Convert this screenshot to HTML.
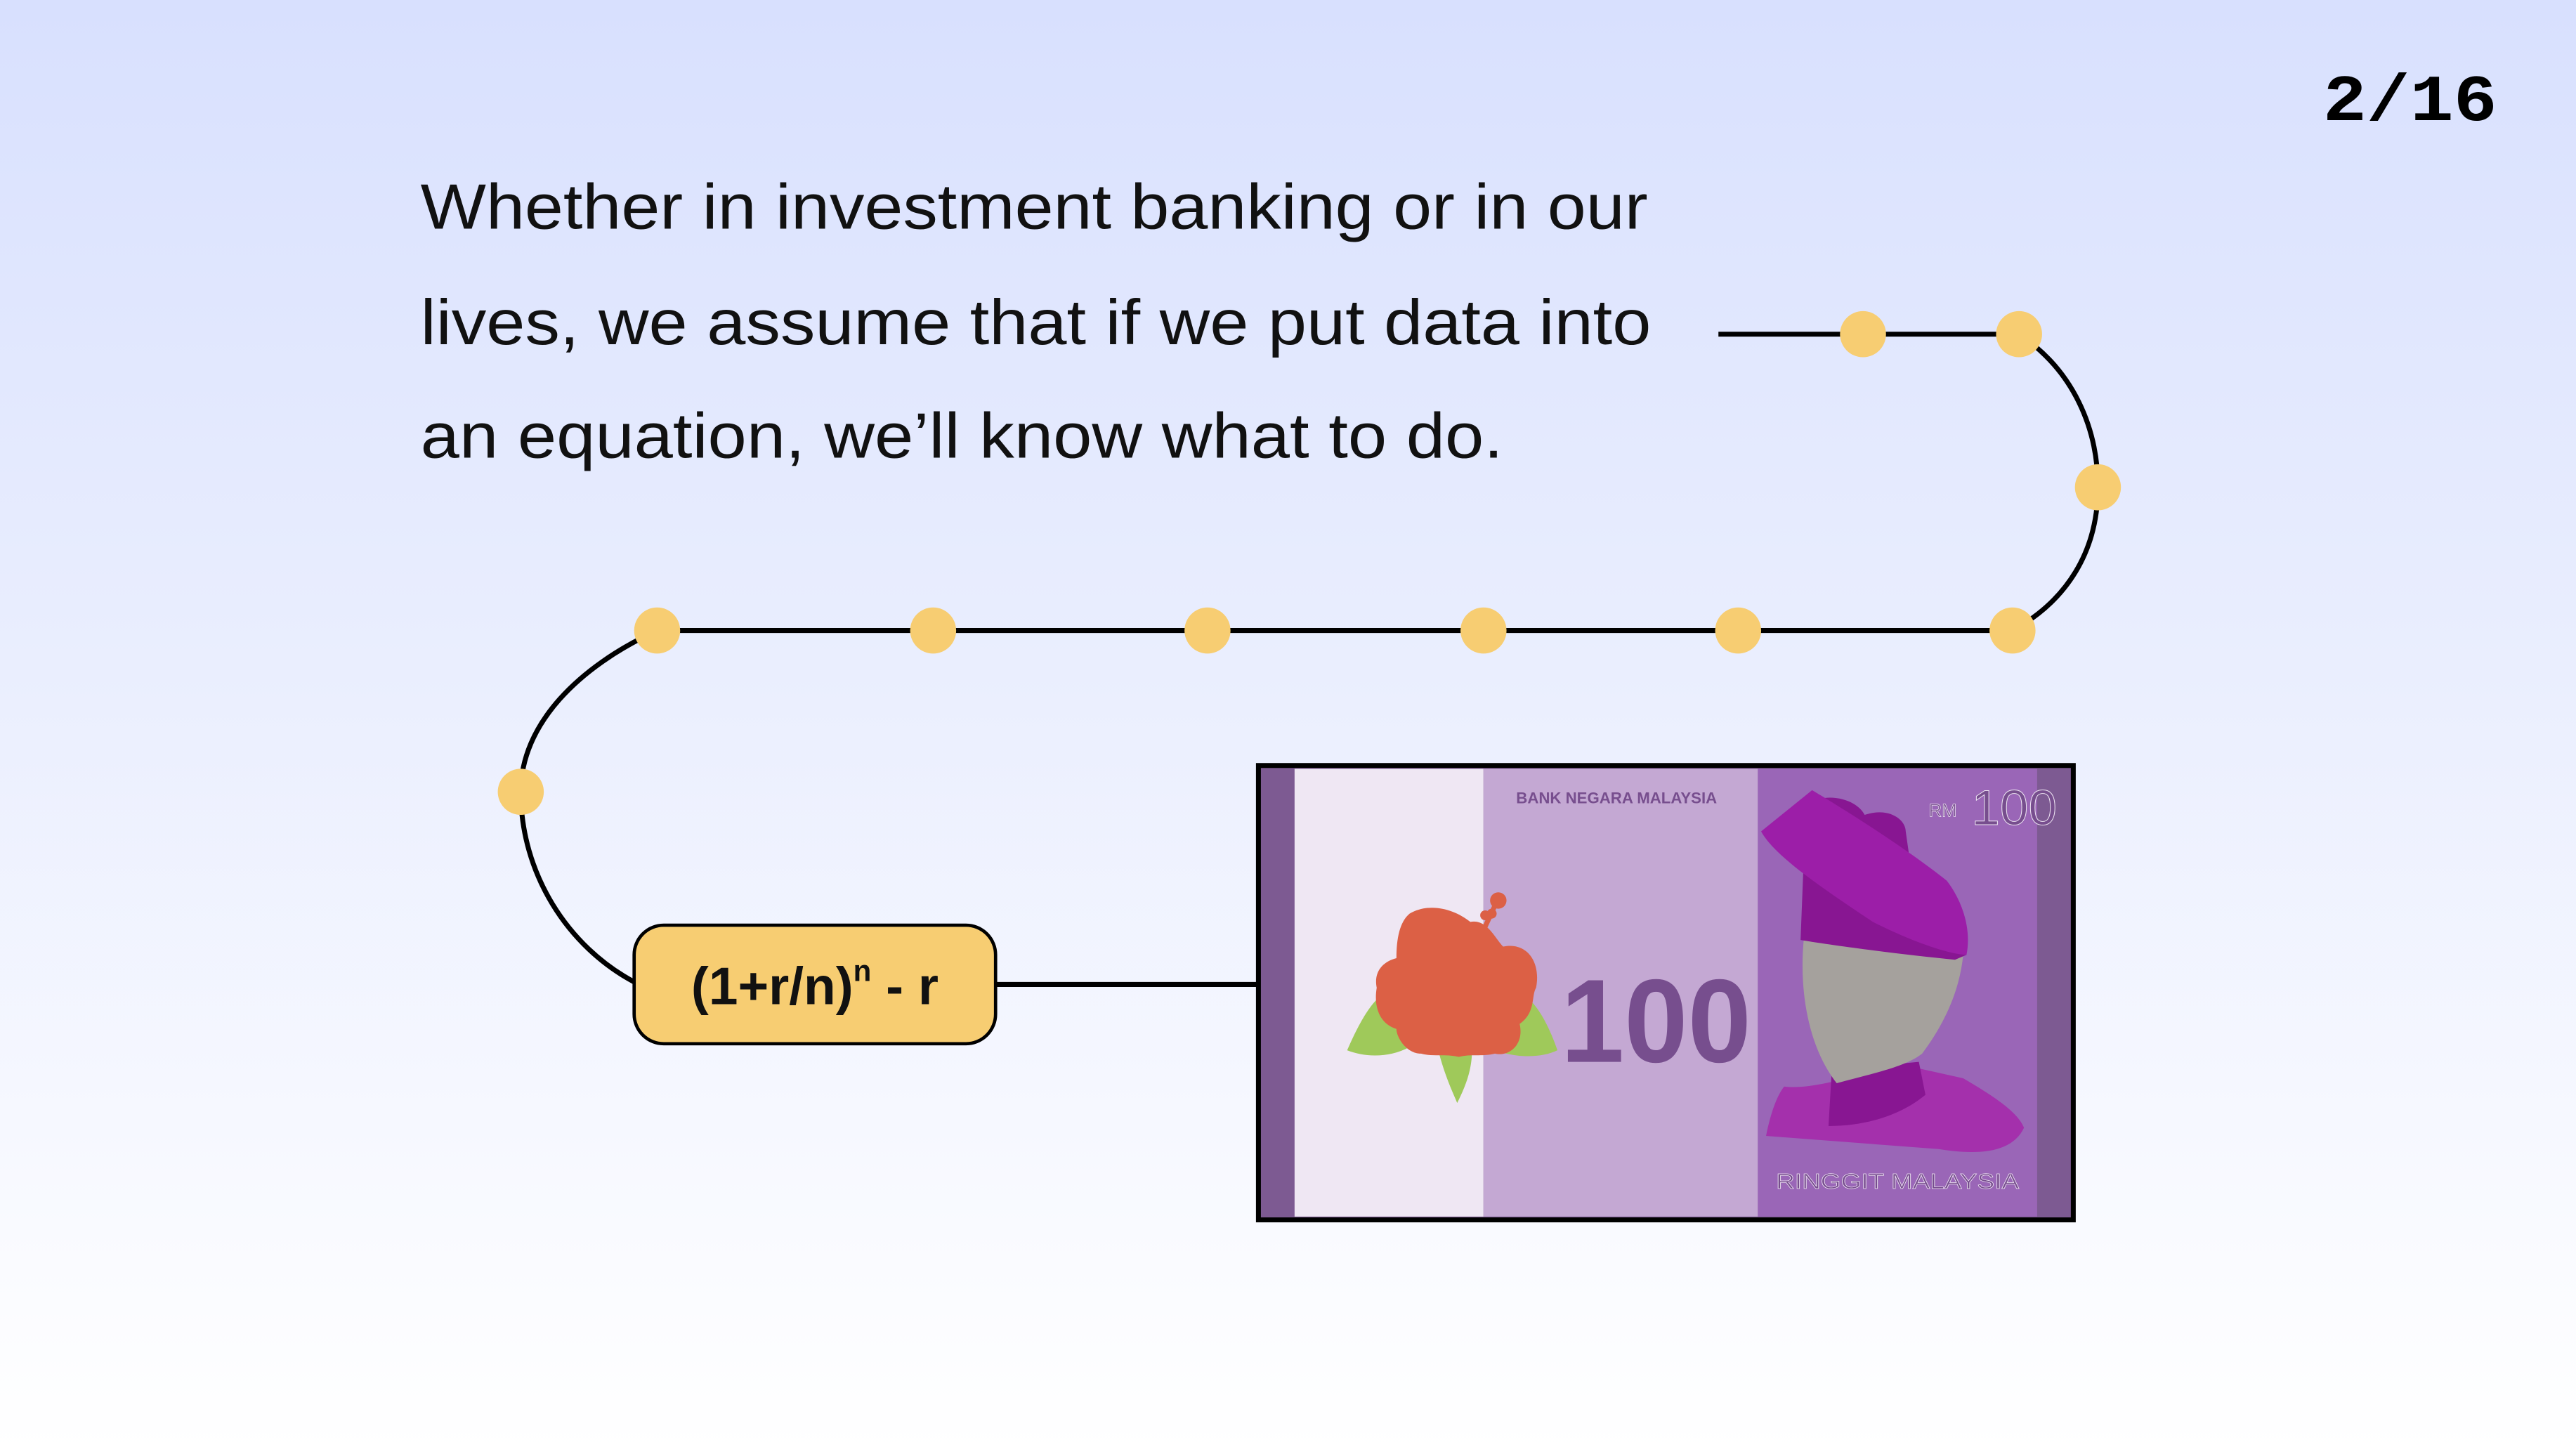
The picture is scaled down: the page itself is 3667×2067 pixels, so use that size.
<!DOCTYPE html>
<html><head><meta charset="utf-8"><style>
html,body{margin:0;padding:0;width:3667px;height:2067px;overflow:hidden;}
svg{display:block}
</style></head><body>
<svg width="3667" height="2067" viewBox="0 0 1568 882" preserveAspectRatio="none" xmlns="http://www.w3.org/2000/svg">
<defs><linearGradient id="bg" x1="0" y1="0" x2="0" y2="1"><stop offset="0" stop-color="#d8e0fe"/><stop offset="1" stop-color="#ffffff"/></linearGradient></defs>
<rect width="1568" height="882" fill="url(#bg)"/>
<text x="1520" y="73" text-anchor="end" font-family="Liberation Mono, monospace" font-weight="bold" font-size="40" fill="#000" textLength="106" lengthAdjust="spacingAndGlyphs">2/16</text>
<g font-family="Liberation Sans, sans-serif" font-size="39" fill="#111">
<text x="256" y="139" textLength="747" lengthAdjust="spacingAndGlyphs">Whether in investment banking or in our</text>
<text x="256" y="209" textLength="749" lengthAdjust="spacingAndGlyphs">lives, we assume that if we put data into</text>
<text x="256" y="278" textLength="659" lengthAdjust="spacingAndGlyphs">an equation, we’ll know what to do.</text>
</g>
<path d="M1046 203 H1229 C1262 225 1277 260 1277 296 C1277 335 1258 365 1225 383 H400 C352 405 317 440 317 481 C317 530 345 575 387 597" fill="none" stroke="#000" stroke-width="3"/>
<line x1="606" y1="598" x2="766" y2="598" stroke="#000" stroke-width="3"/>
<g fill="#f7cd72">
<circle cx="1134" cy="203" r="14"/><circle cx="1229" cy="203" r="14"/><circle cx="1277" cy="296" r="14"/>
<circle cx="1225" cy="383" r="14"/><circle cx="1058" cy="383" r="14"/><circle cx="903" cy="383" r="14"/>
<circle cx="735" cy="383" r="14"/><circle cx="568" cy="383" r="14"/><circle cx="400" cy="383" r="14"/>
<circle cx="317" cy="481" r="14"/>
</g>
<rect x="386" y="562" width="220" height="72" rx="18" fill="#f7cd72" stroke="#000" stroke-width="2"/>
<text x="496" y="610" text-anchor="middle" font-family="Liberation Sans, sans-serif" font-weight="bold" font-size="32" fill="#111">(1+r/n)<tspan font-size="18" dy="-14">n</tspan><tspan dy="14"> - r</tspan></text>
<rect x="766" y="465" width="496" height="276" fill="#7d5a92" stroke="#000" stroke-width="3"/>
<rect x="788" y="467" width="115" height="272" fill="#efe7f3"/>
<rect x="903" y="467" width="167" height="272" fill="#c4a8d3"/>
<rect x="1070" y="467" width="170" height="272" fill="#9a66b7"/>
<text x="984" y="488" text-anchor="middle" font-family="Liberation Sans, sans-serif" font-weight="bold" font-size="9.5" fill="#774e8e">BANK NEGARA MALAYSIA</text>
<text x="1008" y="645" text-anchor="middle" font-family="Liberation Sans, sans-serif" font-weight="bold" font-size="72" fill="#774e8e" textLength="116" lengthAdjust="spacingAndGlyphs">100</text>
<path d="M820 638 C830 615 840 600 850 602 L858 636 C845 643 830 642 820 638Z" fill="#9fc95a"/>
<path d="M948 638 C940 615 930 602 920 602 L905 636 C920 643 938 643 948 638Z" fill="#9fc95a"/>
<path d="M876 640 C880 655 885 665 887 670 C892 660 896 650 896 638Z" fill="#9fc95a"/>
<path d="M858 555 C870 548 885 552 895 560 C905 558 910 570 915 575 C930 572 938 585 935 600 C932 605 935 615 925 622 C928 635 918 642 910 640 C902 642 895 640 888 642 C880 640 872 642 865 640 C856 640 850 630 850 625 C840 622 836 612 838 600 C836 590 842 584 850 582 C850 570 852 560 858 555Z" fill="#dc6045"/>
<circle cx="912" cy="547" r="5" fill="#dc6045"/><path d="M910 550 L903 565" stroke="#dc6045" stroke-width="3"/>
<circle cx="904" cy="556" r="3" fill="#dc6045"/><circle cx="908" cy="555" r="3" fill="#dc6045"/>
<path d="M1086 660 C1100 662 1130 655 1150 645 L1195 655 C1212 665 1228 675 1232 685 C1225 700 1205 702 1180 698 L1075 690 C1078 675 1082 665 1086 660Z" fill="#a430ac"/>
<path d="M1115 650 L1113 684 C1140 684 1160 675 1172 665 L1168 645Z" fill="#881692"/>
<path d="M1098 570 C1095 600 1100 635 1118 658 C1140 652 1160 648 1170 640 C1185 620 1193 600 1195 580 L1195 570Z" fill="#a5a19d"/>
<path d="M1098 490 C1110 480 1130 485 1135 495 C1150 490 1160 498 1160 505 L1165 540 C1180 560 1195 570 1197 580 L1190 583 C1160 580 1120 575 1096 571 L1098 520Z" fill="#881692"/>
<path d="M1103 480 L1072 505 C1080 520 1110 540 1140 560 C1170 575 1190 580 1197 580 C1200 565 1195 548 1185 535 C1160 515 1120 490 1103 480Z" fill="#9c1ea8"/>
<text x="1174" y="496" font-family="Liberation Sans, sans-serif" font-size="11" fill="#774e8e" stroke="#efe7f3" stroke-width="0.3">RM</text>
<text x="1226" y="501" text-anchor="middle" font-family="Liberation Sans, sans-serif" font-size="30" fill="#774e8e" stroke="#efe7f3" stroke-width="0.4" textLength="52" lengthAdjust="spacingAndGlyphs">100</text>
<text x="1155" y="722" text-anchor="middle" font-family="Liberation Sans, sans-serif" font-size="13" fill="#774e8e" stroke="#efe7f3" stroke-width="0.3" textLength="148" lengthAdjust="spacingAndGlyphs">RINGGIT MALAYSIA</text>
</svg>
</body></html>
